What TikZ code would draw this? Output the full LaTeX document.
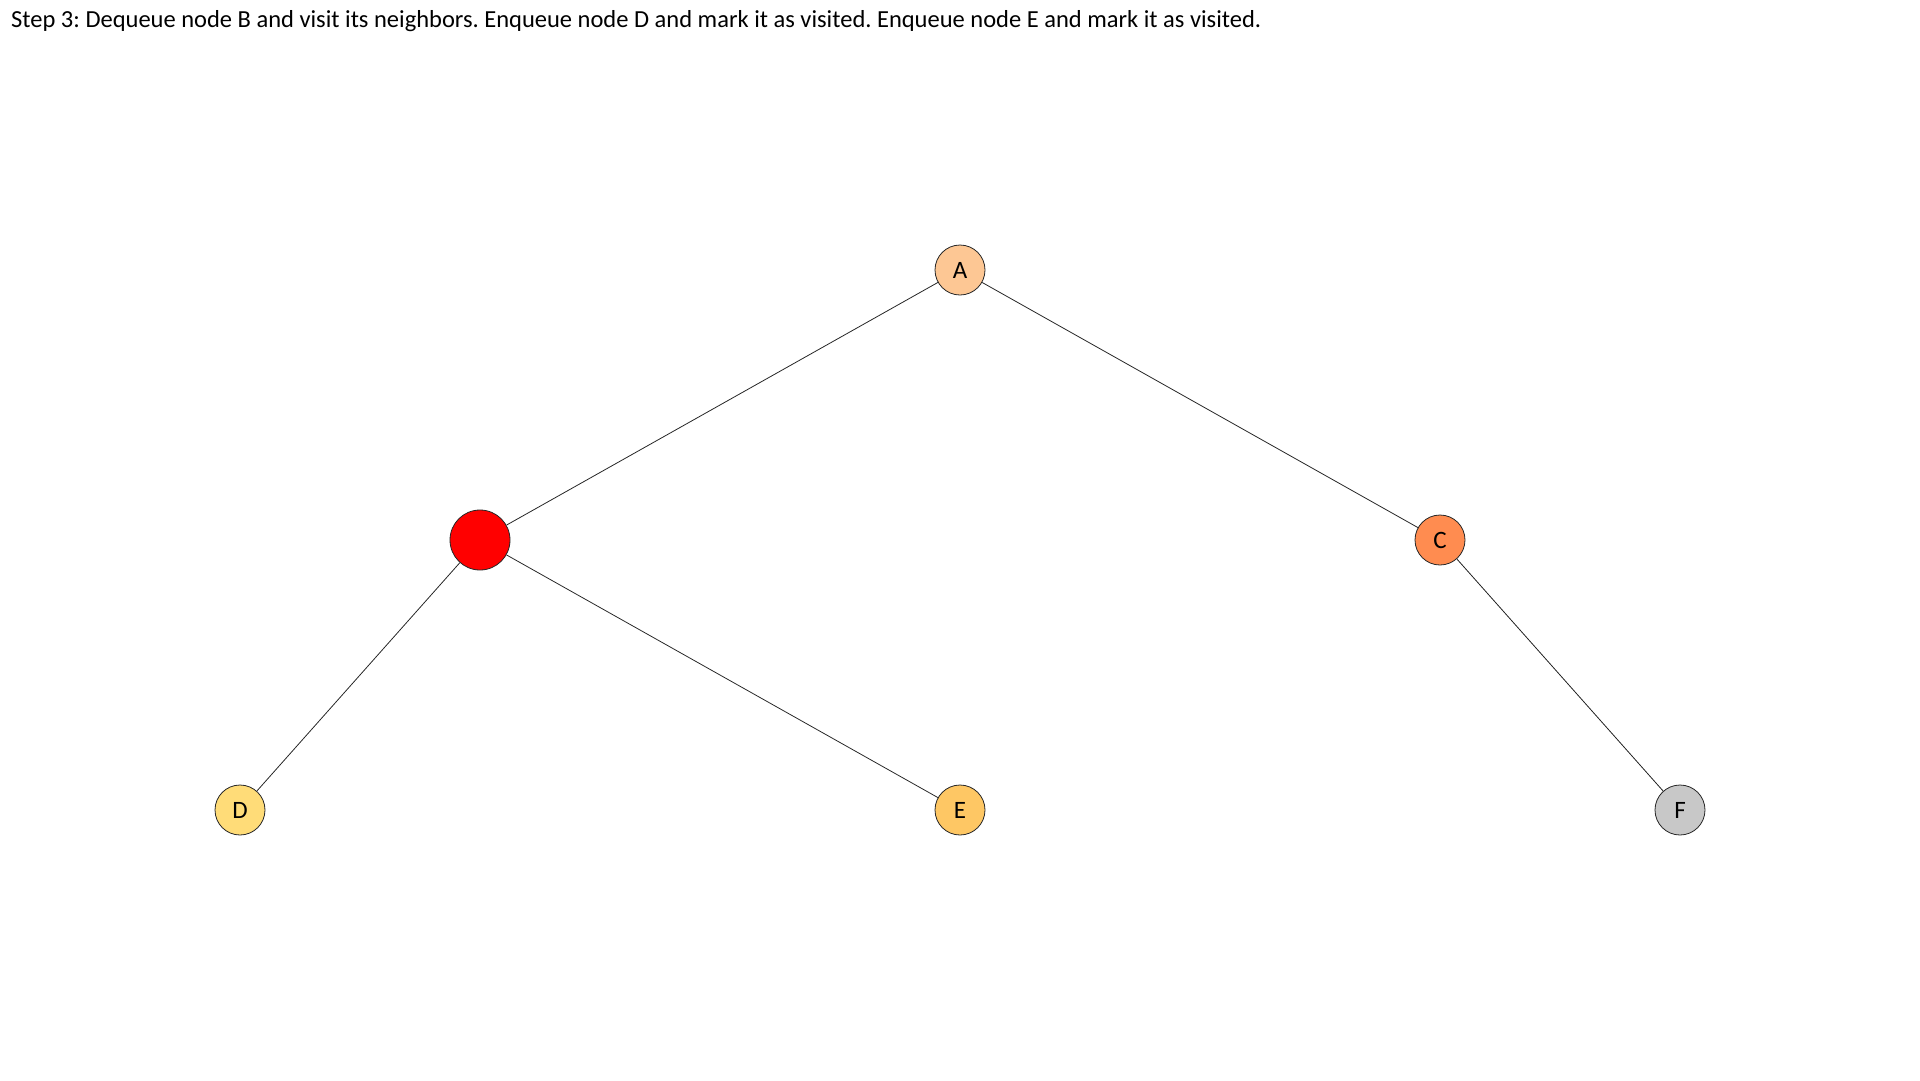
\documentclass[tikz,border=0pt]{standalone}
\usepackage{fontspec}
\setmainfont{Carlito}
\usepackage{tikz}
\usetikzlibrary{shapes,arrows,positioning}
\frenchspacing

\definecolor{colA}{HTML}{FDC794}
\definecolor{colB}{HTML}{FF0000}
\definecolor{colC}{HTML}{FF8C50}
\definecolor{colD}{HTML}{FFDC78}
\definecolor{colE}{HTML}{FEC764}
\definecolor{colF}{HTML}{C8C8C8}

\begin{document}
\begin{tikzpicture}[x=1pt,y=-1pt,
	vertex/.style={shape=circle,draw=black!85,line width=0.8pt,minimum size=50pt,inner sep=0pt,font=\fontsize{25}{30}\selectfont},
	bigvertex/.style={vertex,minimum size=60pt}]
	\useasboundingbox (0,0) rectangle (1920,1080);
	\node[anchor=base west,inner sep=0pt,font=\fontsize{24.5}{29}\selectfont] (title) at (11,27) {Step 3: Dequeue node B and visit its neighbors. Enqueue node D and mark it as visited. Enqueue node E and mark it as visited.};
	
	\node[vertex,fill=colA] (A) at (960,270) {A};
	\node[bigvertex,fill=colB] (B) at (480,540) {};
	\node[vertex,fill=colC] (C) at (1440,540) {C};
	\node[vertex,fill=colD] (D) at (240,810) {D};
	\node[vertex,fill=colE] (E) at (960,810) {E};
	\node[vertex,fill=colF] (F) at (1680,810) {F};
	
	\path [-,line width=0.8pt,draw=black!85] (A) edge (B);
	\path [-,line width=0.8pt,draw=black!85] (A) edge (C);
	\path [-,line width=0.8pt,draw=black!85] (B) edge (D);
	\path [-,line width=0.8pt,draw=black!85] (B) edge (E);
	\path [-,line width=0.8pt,draw=black!85] (C) edge (F);
\end{tikzpicture}
\end{document}
